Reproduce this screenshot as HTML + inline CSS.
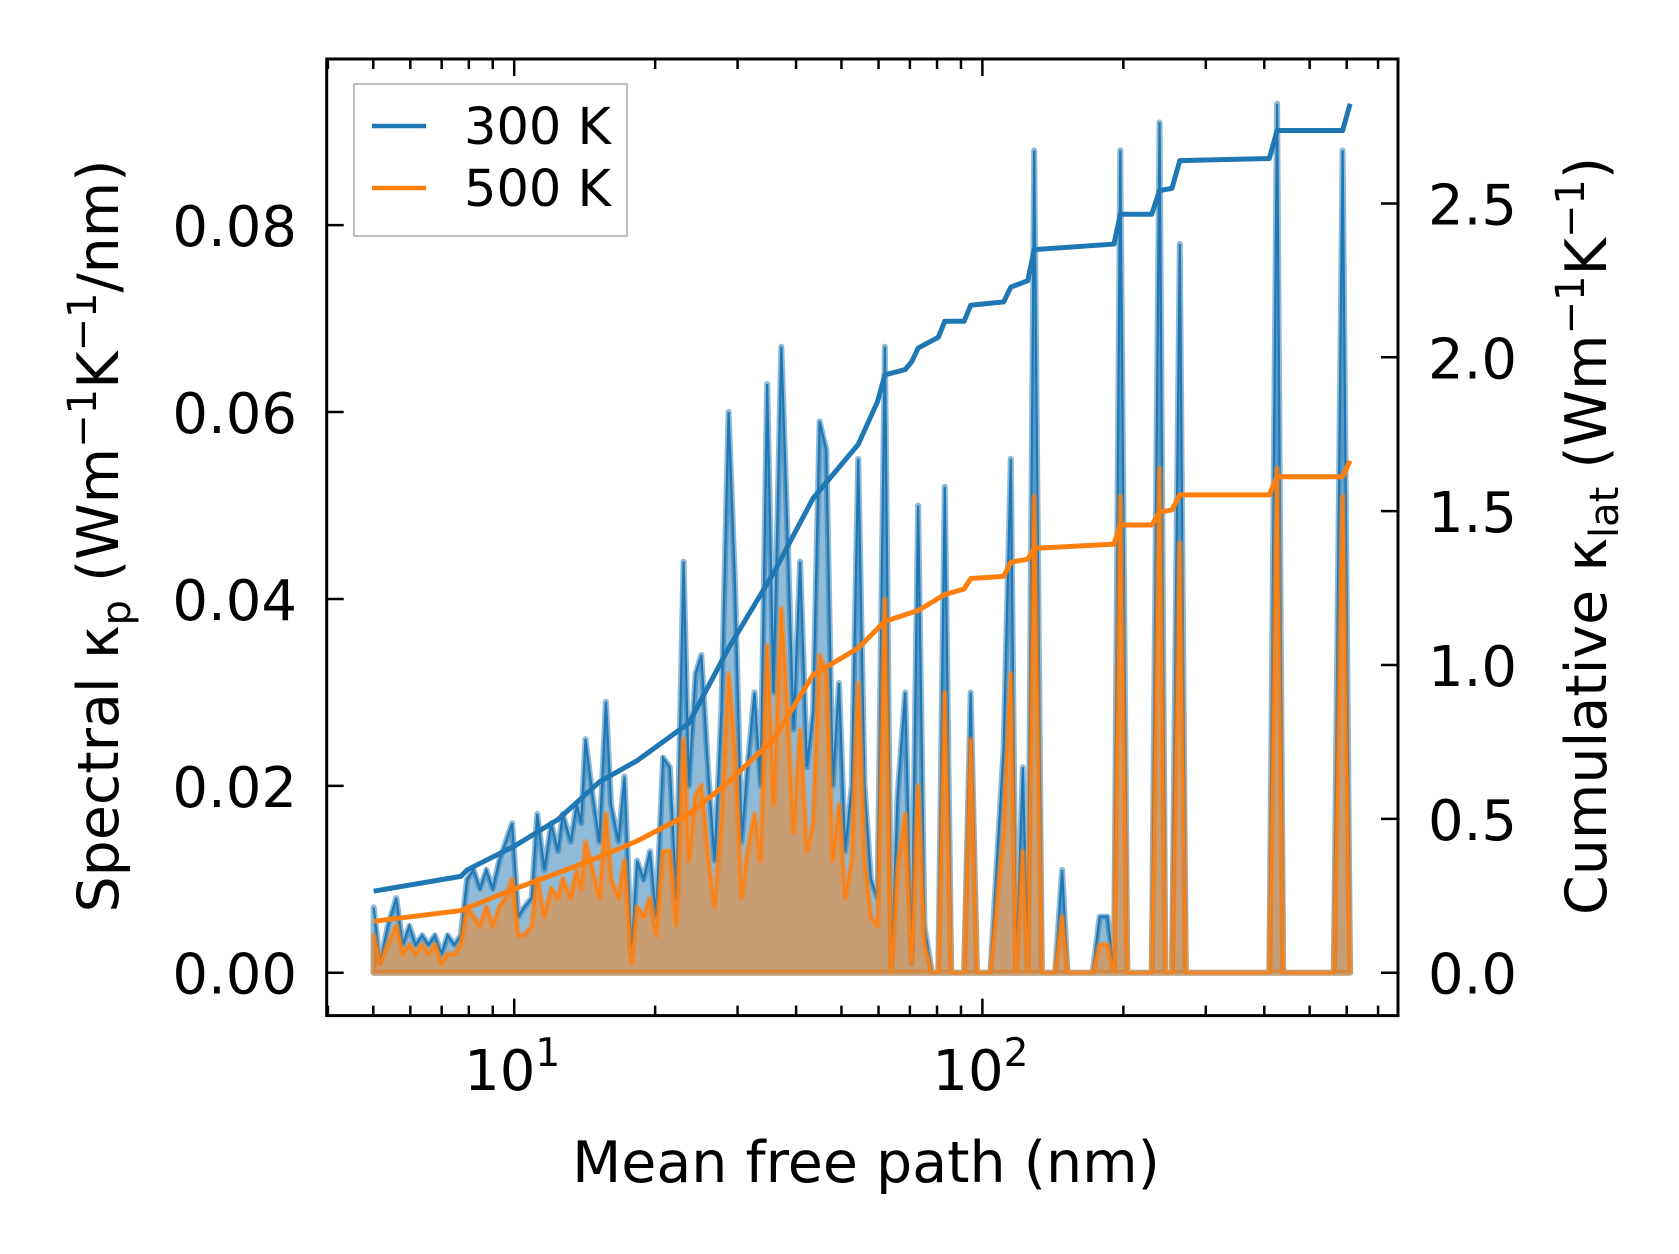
<!DOCTYPE html>
<html><head><meta charset="utf-8"><style>
html,body{margin:0;padding:0;background:#fff;}
svg{display:block;font-family:"DejaVu Sans","Liberation Sans",sans-serif;}
</style></head><body>
<svg id="chart" width="1679" height="1254" viewBox="0 0 1679 1254" xmlns="http://www.w3.org/2000/svg">
<defs><clipPath id="clip"><rect x="326" y="58" width="1073" height="958"/></clipPath></defs>
<g id="plot" clip-path="url(#clip)"></g>
<g id="axes"></g>
</svg>
<script>
// ---- data ----
const mfp = [5.01,5.17,5.37,5.60,5.78,5.97,6.16,6.36,6.56,6.77,6.99,7.21,7.45,7.69,7.93,8.19,8.45,8.72,9.00,9.29,9.59,9.90,10.2,10.5,10.9,11.2,11.6,12.0,12.4,12.7,13.2,13.6,13.9,14.2,14.7,15.2,15.7,16.1,16.7,17.2,17.8,18.3,18.9,19.5,20.1,20.8,21.5,22.2,23.0,23.6,24.4,25.1,26.0,26.8,27.7,28.7,29.6,30.6,31.5,32.6,33.6,34.7,35.8,37.2,38.4,39.5,40.8,42.2,43.5,44.9,46.4,47.9,49.4,50.9,52.6,54.3,56.0,57.8,59.7,61.9,63.9,65.9,68.4,70.6,72.9,75.2,78.0,80.5,83.1,85.8,88.6,91.4,94.4,97.4,104,111,115,118,122,125,129,134,143,148,152,172,178,185,191,197,204,230,239,246,254,264,272,284,410,426,439,563,588,610];
const spec300 = [0.007,0.001,0.005,0.008,0.003,0.005,0.003,0.004,0.003,0.004,0.002,0.004,0.003,0.004,0.010,0.011,0.009,0.011,0.009,0.012,0.014,0.016,0.006,0.007,0.008,0.017,0.011,0.016,0.013,0.017,0.014,0.018,0.016,0.025,0.019,0.014,0.029,0.018,0.014,0.021,0.002,0.012,0.010,0.013,0.006,0.023,0.022,0.008,0.044,0.020,0.032,0.034,0.021,0.012,0.028,0.060,0.042,0.014,0.022,0.030,0.020,0.063,0.030,0.067,0.046,0.026,0.044,0.022,0.028,0.059,0.056,0.020,0.031,0.013,0.020,0.055,0.020,0.010,0.008,0.067,0.000,0.019,0.030,0.001,0.050,0.005,0.000,0.000,0.052,0.000,0.000,0.000,0.030,0.000,0.000,0.024,0.055,0.000,0.022,0.000,0.088,0.000,0.000,0.011,0.000,0.000,0.006,0.006,0.000,0.088,0.000,0.000,0.091,0.000,0.000,0.078,0.000,0.000,0.000,0.093,0.000,0.000,0.088,0.000];
const spec500 = [0.004,0.001,0.003,0.005,0.002,0.003,0.002,0.003,0.002,0.003,0.001,0.002,0.002,0.003,0.007,0.006,0.005,0.007,0.005,0.007,0.008,0.010,0.004,0.004,0.005,0.010,0.006,0.009,0.008,0.010,0.008,0.011,0.009,0.014,0.011,0.008,0.017,0.010,0.008,0.012,0.001,0.007,0.006,0.008,0.004,0.013,0.013,0.005,0.025,0.012,0.019,0.020,0.012,0.007,0.016,0.032,0.024,0.008,0.013,0.017,0.012,0.035,0.018,0.039,0.027,0.015,0.026,0.013,0.016,0.034,0.032,0.012,0.018,0.008,0.012,0.031,0.012,0.006,0.005,0.040,0.000,0.011,0.017,0.001,0.020,0.003,0.000,0.000,0.030,0.000,0.000,0.000,0.025,0.000,0.000,0.015,0.032,0.000,0.013,0.000,0.051,0.000,0.000,0.006,0.000,0.000,0.003,0.003,0.000,0.051,0.000,0.000,0.054,0.000,0.000,0.046,0.000,0.000,0.000,0.054,0.000,0.000,0.051,0.000];
const cumMfp300 = [5.01,7.69,7.93,10.0,12.4,15.2,18.3,23.6,28.7,35.8,43.5,54.3,59.7,61.9,68.4,70.6,72.9,80.5,83.1,91.4,94.4,111,115,125,129,191,197,230,239,254,264,410,426,588,610];
const cum300 = [0.265,0.313,0.334,0.411,0.498,0.620,0.689,0.811,1.055,1.299,1.542,1.717,1.856,1.943,1.960,1.985,2.030,2.065,2.117,2.117,2.169,2.180,2.228,2.249,2.350,2.368,2.465,2.465,2.542,2.549,2.639,2.646,2.737,2.737,2.824];
const cumMfp500 = [5.01,7.69,10.0,12.4,15.2,18.3,23.6,28.7,35.8,43.5,54.3,61.9,72.9,83.1,91.4,94.4,111,115,125,129,191,197,230,239,254,264,410,426,588,610];
const cum500 = [0.167,0.202,0.272,0.324,0.376,0.428,0.515,0.620,0.759,0.968,1.055,1.142,1.177,1.229,1.247,1.281,1.288,1.334,1.344,1.379,1.393,1.455,1.455,1.497,1.504,1.553,1.553,1.612,1.612,1.664];
const yTicksL = [0,0.02,0.04,0.06,0.08];
const yTickLabelsL = ["0.00","0.02","0.04","0.06","0.08"];
const yTicksR = [0,0.5,1.0,1.5,2.0,2.5];
const yTickLabelsR = ["0.0","0.5","1.0","1.5","2.0","2.5"];

// ---- axes ----
const L=326.7,R=1398,T=59,B=1015.6;
const xs = m => 514.2 + (Math.log10(m)-1)*468.2;
const yL = v => 972.7 - v*9344;
const yR = v => 972.7 - v*307.7;
const NS="http://www.w3.org/2000/svg";
function mk(tag, attrs, parent){const e=document.createElementNS(NS,tag);for(const k in attrs)e.setAttribute(k,attrs[k]);parent.appendChild(e);return e;}
const plot=document.getElementById('plot'), axes=document.getElementById('axes');

function fillPath(vals){let d=`M${xs(mfp[0])},${yL(0)}`;vals.forEach((v,i)=>d+=`L${xs(mfp[i])},${yL(v)}`);d+=`L${xs(mfp[mfp.length-1])},${yL(0)}Z`;return d;}
function linePath(xa,vals,yf){return vals.map((v,i)=>(i?'L':'M')+xs(xa[i])+','+yf(v)).join('');}

let e;
e=mk('path',{d:fillPath(spec300),fill:'#1f77b4','fill-opacity':0.5,stroke:'#1f77b4','stroke-opacity':0.5,'stroke-width':6,'stroke-linejoin':'round'},plot);


e=mk('path',{d:linePath(mfp,spec300,yL),fill:'none',stroke:'#1f77b4','stroke-width':2.2},plot);


e=mk('path',{d:fillPath(spec500),fill:'#ff7f0e','fill-opacity':0.5,stroke:'#ff7f0e','stroke-opacity':0.5,'stroke-width':6,'stroke-linejoin':'round'},plot);


e=mk('path',{d:linePath(mfp,spec500,yL),fill:'none',stroke:'#ff7f0e','stroke-width':2.2},plot);


e=mk('path',{d:linePath(cumMfp300,cum300,yR),fill:'none',stroke:'#1f77b4','stroke-width':5,'stroke-linejoin':'round'},plot);


e=mk('path',{d:linePath(cumMfp500,cum500,yR),fill:'none',stroke:'#ff7f0e','stroke-width':5,'stroke-linejoin':'round'},plot);



e=mk('rect',{x:L,y:T,width:R-L,height:B-T,fill:'none',stroke:'#000','stroke-width':3},axes);



yTicksL.forEach((v,i)=>{const y=yL(v);
 mk('line',{x1:L,x2:L+17,y1:y,y2:y,stroke:'#000','stroke-width':2.5},axes);
 const t=mk('text',{x:297,y:y+21,'font-size':56,'text-anchor':'end'},axes);t.textContent=yTickLabelsL[i];
 
 
});
yTicksR.forEach((v,i)=>{const y=yR(v);
 mk('line',{x1:R-17,x2:R,y1:y,y2:y,stroke:'#000','stroke-width':2.5},axes);
 const t=mk('text',{x:1428,y:y+21,'font-size':56,'text-anchor':'start'},axes);t.textContent=yTickLabelsR[i];
 
 
});
for(let dec=0;dec<=2;dec++){for(let k=1;k<=9;k++){const m=k*Math.pow(10,dec);const x=xs(m);if(x<L||x>R)continue;
 const len=k===1?17:10;
 mk('line',{x1:x,x2:x,y1:B,y2:B-len,stroke:'#000','stroke-width':2.5},axes);
 mk('line',{x1:x,x2:x,y1:T,y2:T+len,stroke:'#000','stroke-width':2.5},axes);
}}
[[10,'1'],[100,'2']].forEach(([m,p])=>{const t=mk('text',{x:xs(m)-2,y:1090,'font-size':56,'text-anchor':'middle'},axes);
 t.innerHTML='10<tspan dy="-24" font-size="39">'+p+'</tspan>';
 
 
});
</script>
<svg style="position:absolute;left:0;top:0" width="1679" height="1254" xmlns="http://www.w3.org/2000/svg" font-family="DejaVu Sans, Liberation Sans, sans-serif">
<text x="866" y="1182" font-size="57" text-anchor="middle">Mean free path (nm)</text>
<text transform="translate(118,536) rotate(-90)" font-size="57" text-anchor="middle">Spectral κ<tspan font-size="40" dy="12">p</tspan><tspan dy="-12"> (Wm</tspan><tspan font-size="40" dy="-22">−1</tspan><tspan dy="22">K</tspan><tspan font-size="40" dy="-22">−1</tspan><tspan dy="22">/nm)</tspan></text>
<text transform="translate(1606,536) rotate(-90)" font-size="57" text-anchor="middle">Cumulative κ<tspan font-size="40" dy="12">lat</tspan><tspan dy="-12"> (Wm</tspan><tspan font-size="40" dy="-22">−1</tspan><tspan dy="22">K</tspan><tspan font-size="40" dy="-22">−1</tspan><tspan dy="22">)</tspan></text>
<g>
<rect x="354" y="84" width="273" height="152" fill="#fff" fill-opacity="0.8" stroke="#aaa" stroke-width="1.5"/>
<line x1="372" x2="426" y1="126" y2="126" stroke="#1f77b4" stroke-width="4.5"/>
<text x="464" y="144" font-size="51">300 K</text>
<line x1="372" x2="426" y1="188" y2="188" stroke="#ff7f0e" stroke-width="4.5"/>
<text x="464" y="206" font-size="51">500 K</text>
</g>
</svg>
</body></html>
